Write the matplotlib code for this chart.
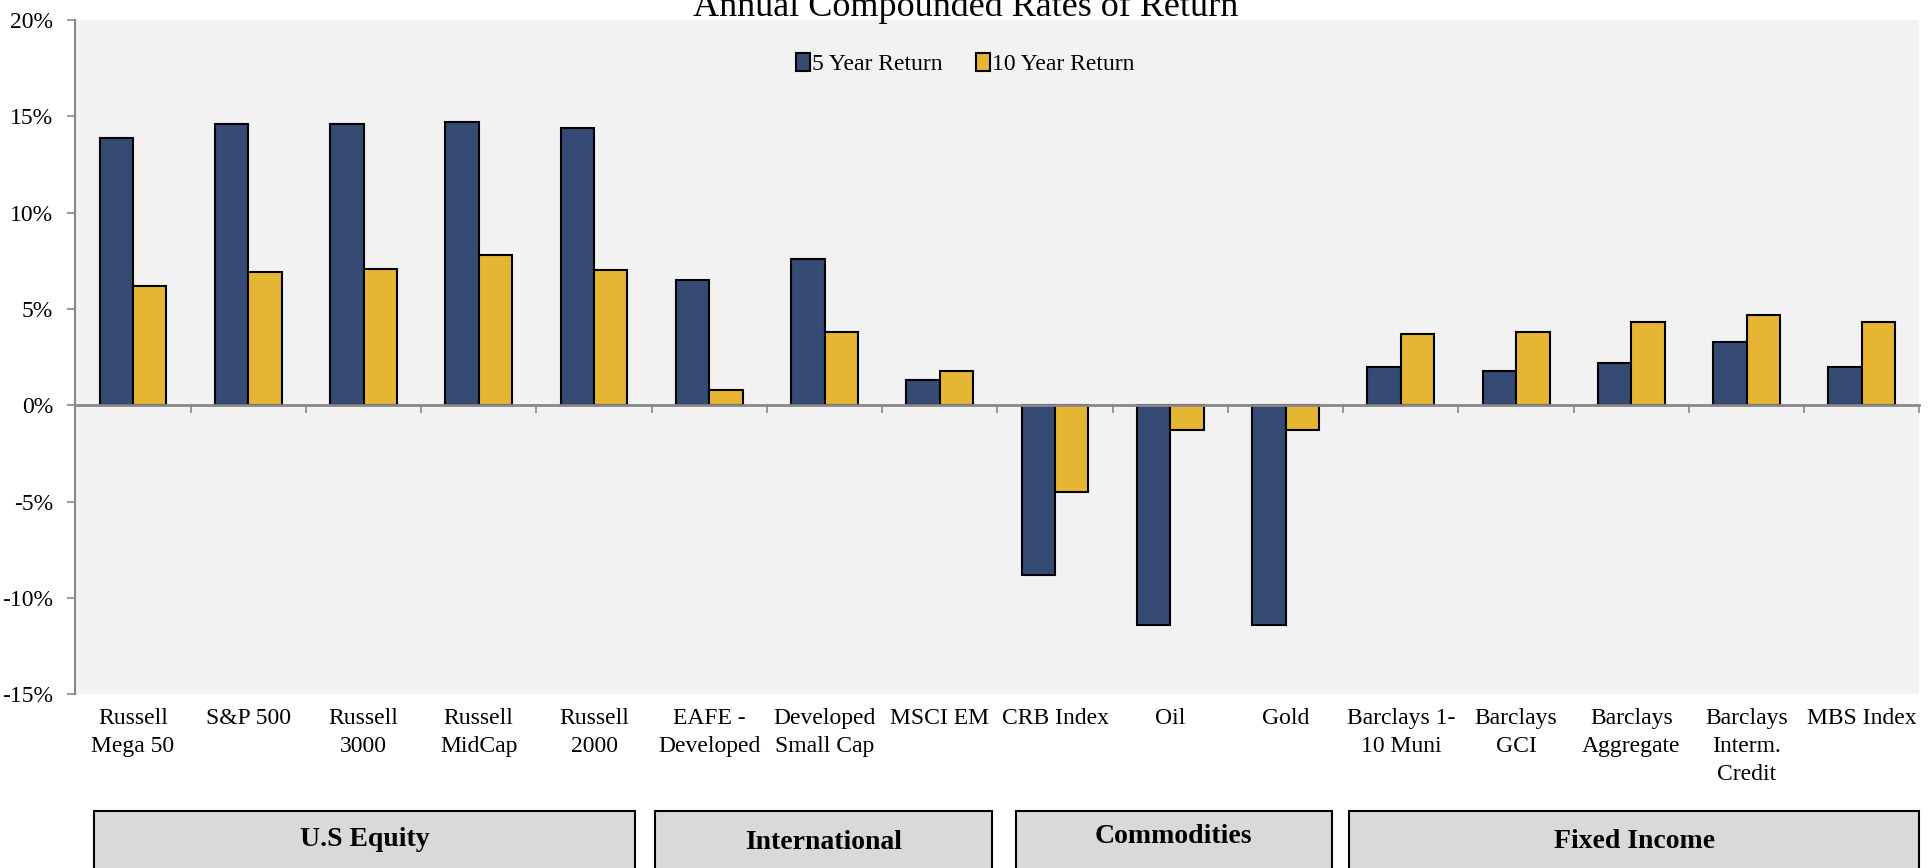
import numpy as np
import matplotlib
matplotlib.use("Agg")
import matplotlib.pyplot as plt
from matplotlib.patches import Rectangle
import matplotlib.transforms as mtransforms

plt.rcParams['font.family'] = ['Liberation Serif', 'DejaVu Serif']

categories = ["Russell\nMega 50", "S&P 500", "Russell\n3000", "Russell\nMidCap",
              "Russell\n2000", "EAFE -\nDeveloped", "Developed\nSmall Cap", "MSCI EM",
              "CRB Index", "Oil", "Gold", "Barclays 1-\n10 Muni", "Barclays\nGCI",
              "Barclays\nAggregate", "Barclays\nInterm.\nCredit", "MBS Index"]
five_year = [13.9, 14.6, 14.6, 14.7, 14.4, 6.5, 7.6, 1.3,
             -8.8, -11.4, -11.4, 2.0, 1.8, 2.2, 3.3, 2.0]
ten_year = [6.2, 6.9, 7.1, 7.8, 7.0, 0.8, 3.8, 1.8,
            -4.5, -1.3, -1.3, 3.7, 3.8, 4.3, 4.7, 4.3]
groups = ["U.S Equity", "International", "Commodities", "Fixed Income"]

blue = "#364B74"
gold = "#E6B533"

fig = plt.figure(figsize=(19.33, 8.68), dpi=100)
ax = fig.add_axes([0.039, 0.200, 0.954, 0.777])
ax.set_facecolor("#F2F2F2")

x = np.arange(len(categories))
w = 0.29
ax.bar(x - w / 2, five_year, w, color=blue, edgecolor="black", linewidth=1.5, label="5 Year Return")
ax.bar(x + w / 2, ten_year, w, color=gold, edgecolor="black", linewidth=1.5, label="10 Year Return")

ax.set_xlim(-0.5, len(categories) - 0.5)
ax.set_ylim(-15, 20)
ax.set_yticks(np.arange(-15, 21, 5))
ax.set_yticklabels([f"{v}%" for v in range(-15, 21, 5)], fontsize=17)

for s in ["top", "right"]:
    ax.spines[s].set_visible(False)
ax.spines["left"].set_color("#888888")
ax.spines["left"].set_linewidth(1.5)
ax.spines["bottom"].set_position(("data", 0))
ax.spines["bottom"].set_color("#888888")
ax.spines["bottom"].set_linewidth(2)
ax.set_xticks(np.arange(-0.5, len(categories), 1.0))
ax.set_xticklabels([])
ax.tick_params(axis="x", length=6, color="#888888", width=1.2)
ax.tick_params(axis="y", length=6, color="#888888", width=1.2, pad=10)

trans = mtransforms.blended_transform_factory(ax.transData, ax.transAxes)
for xi, lab in zip(x, categories):
    ax.text(xi, -0.02, lab, transform=trans, ha="center", va="top",
            fontsize=17, linespacing=1.45)

fig.legend(loc="center", bbox_to_anchor=(0.4994, 0.926), ncol=2, frameon=False,
           fontsize=17, handlelength=0.6, handleheight=0.8, handletextpad=0.1,
           columnspacing=1.4)

fig.text(0.4994, 0.982, "Annual Compounded Rates of Return", ha="center",
         va="baseline", fontsize=26)

# group boxes along the bottom
box_x = [(0.0486, 0.3285), (0.339, 0.513), (0.5255, 0.689), (0.698, 0.993)]
text_y = [0.033, 0.029, 0.036, 0.031]
for name, (x0, x1), ty in zip(groups, box_x, text_y):
    fig.patches.append(Rectangle((x0, -0.05), x1 - x0, 0.116, transform=fig.transFigure,
                                 facecolor="#D9D9D9", edgecolor="black", linewidth=1.5))
    fig.text((x0 + x1) / 2, ty, name, ha="center", va="center", fontsize=20,
             fontweight="bold")

fig.savefig("out.png", dpi=100)
